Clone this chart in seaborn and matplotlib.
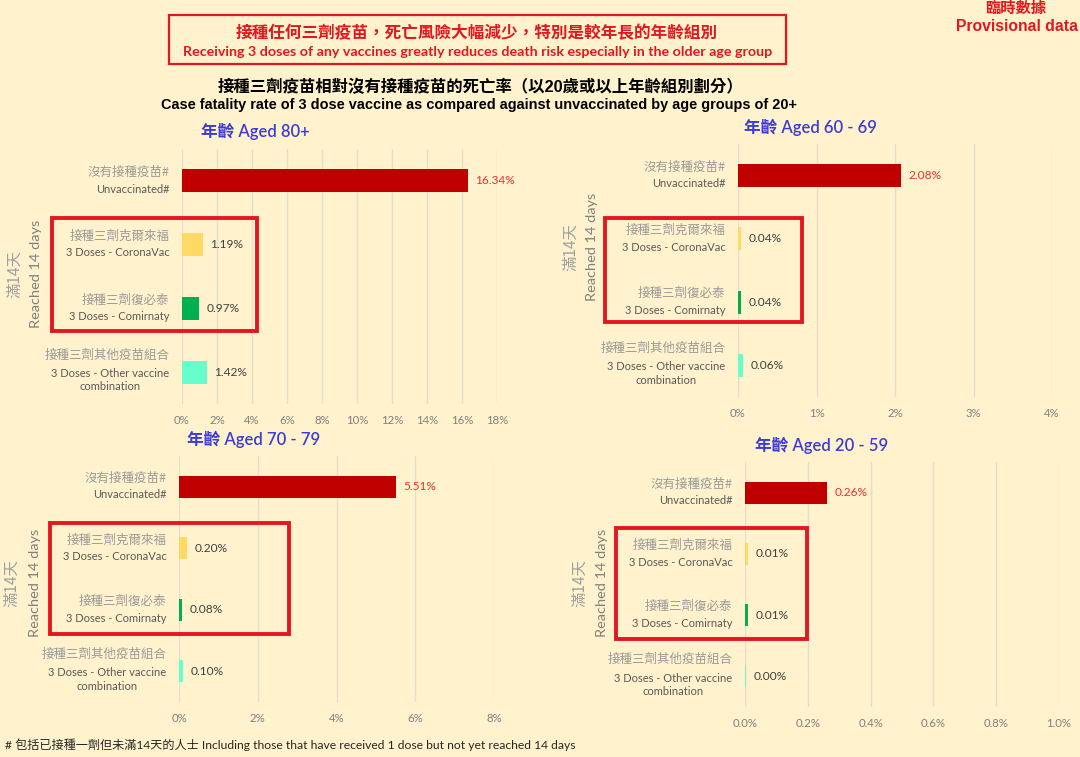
import matplotlib
matplotlib.use("Agg")
import matplotlib.pyplot as plt
import seaborn as sns
import pandas as pd
from matplotlib import font_manager
from matplotlib.patches import Rectangle

W, H = 1080, 757

# ---- data ----
labels_zh = ["沒有接種疫苗#", "接種三劑克爾來福", "接種三劑復必泰", "接種三劑其他疫苗組合"]
labels_en = ["Unvaccinated#", "3 Doses - CoronaVac", "3 Doses - Comirnaty",
             "3 Doses - Other vaccine\ncombination"]
bar_colors = ["#C00000", "#FFD966", "#00B050", "#66FFCC"]

panel_titles = ["年齡 Aged 80+", "年齡 Aged 60 - 69", "年齡 Aged 70 - 79", "年齡 Aged 20 - 59"]
rate_80 = [16.34, 1.19, 0.97, 1.42]
rate_60_69 = [2.08, 0.04, 0.04, 0.06]
rate_70_79 = [5.51, 0.20, 0.08, 0.10]
rate_20_59 = [0.26, 0.01, 0.01, 0.0045]
ticks_80 = [0, 2, 4, 6, 8, 10, 12, 14, 16, 18]
ticks_60_69 = [0, 1, 2, 3, 4]
ticks_70_79 = [0, 2, 4, 6, 8]
ticks_20_59 = [0.0, 0.2, 0.4, 0.6, 0.8, 1.0]
tick_fmt = ["{:.0f}%", "{:.0f}%", "{:.0f}%", "{:.1f}%"]

header_zh = "接種任何三劑疫苗，死亡風險大幅減少，特別是較年長的年齡組別"
header_en = "Receiving 3 doses of any vaccines greatly reduces death risk especially in the older age group"
title_zh = "接種三劑疫苗相對沒有接種疫苗的死亡率（以20歲或以上年齡組別劃分）"
title_en = "Case fatality rate of 3 dose vaccine as compared against unvaccinated by age groups of 20+"
footnote = "# 包括已接種一劑但未滿14天的人士 Including those that have received 1 dose but not yet reached 14 days"
ylabel_zh = "滿14天"
ylabel_en = "Reached 14 days"

# ---- layout (pixels) ----
layout = [
    dict(ax=(182, 149, 497, 404), title=(255, 131), box=(52, 218, 257, 331), ylab=(15, 35.5, 274)),
    dict(ax=(738, 144, 1052, 397), title=(810, 127), box=(605, 218, 802, 322), ylab=(571, 592, 247)),
    dict(ax=(179, 456, 494, 702), title=(254, 439), box=(50, 523, 289, 634), ylab=(12, 35, 583)),
    dict(ax=(745, 462, 1059, 707), title=(822, 445), box=(616, 528, 807, 639), ylab=(580, 602, 583)),
]
rates = [rate_80, rate_60_69, rate_70_79, rate_20_59]
ticks = [ticks_80, ticks_60_69, ticks_70_79, ticks_20_59]

BG = "#FFF2CC"
RED = "#E3171F"
sns.set_theme(style="white")
names = {f.name for f in font_manager.fontManager.ttflist}
NARROW = "Liberation Sans Narrow" if "Liberation Sans Narrow" in names else "Liberation Sans"
CJK = "Noto Sans CJK TC"
MIX = ["Lato", CJK]
plt.rcParams["font.family"] = MIX

fig = plt.figure(figsize=(W / 100, H / 100), dpi=100, facecolor=BG)
renderer = fig.canvas.get_renderer()


def ftext(x, y, s, **kw):
    return fig.text(x / W, 1 - y / H, s, **kw)


def fit(t, target, vertical=False):
    bb = t.get_window_extent(renderer=renderer)
    w = bb.height if vertical else bb.width
    t.set_fontsize(t.get_fontsize() * target / w)


def frect(x0, y0, x1, y1, lw, color):
    fig.patches.append(Rectangle((x0 / W, 1 - y1 / H), (x1 - x0) / W, (y1 - y0) / H,
                                 transform=fig.transFigure, fill=False,
                                 edgecolor=color, linewidth=lw, zorder=5))


# header
frect(169, 15, 786, 64, 1.6, RED)
t = ftext(477, 33, header_zh, ha="center", va="center", color=RED, fontsize=12,
          fontweight="bold", family=[CJK])
fit(t, 480)
t = ftext(478, 51.5, header_en, ha="center", va="center", color=RED, fontsize=9,
          fontweight="bold", family=MIX)
fit(t, 590)
t = ftext(1016, 8, "臨時數據", ha="center", va="center", color=RED, fontsize=11,
          fontweight="bold", family=[CJK])
fit(t, 61)
t = ftext(1017, 26.5, "Provisional data", ha="center", va="center", color=RED, fontsize=10,
          fontweight="bold", family=[NARROW])
fit(t, 122)
t = ftext(481, 87, title_zh, ha="center", va="center", color="black", fontsize=12,
          fontweight="bold", family=[NARROW, CJK])
fit(t, 525)
t = ftext(479, 105.5, title_en, ha="center", va="center", color="black", fontsize=11,
          fontweight="bold", family=[NARROW])
fit(t, 637)
t = ftext(5, 745, footnote, ha="left", va="center", color="#262626", fontsize=8, family=MIX)
fit(t, 572)

PX = 0.72  # points per pixel at 100 dpi
LH = 16.5 * PX

for k, lay in enumerate(layout):
    l, tp, r, b = lay["ax"]
    ax = fig.add_axes([l / W, 1 - b / H, (r - l) / W, (b - tp) / H])
    df = pd.DataFrame({"cat": labels_en, "rate": rates[k]})
    sns.barplot(data=df, x="rate", y="cat", hue="cat", palette=bar_colors, legend=False,
                width=0.36, saturation=1, orient="h", linewidth=0, ax=ax, zorder=3)
    ax.set_facecolor("none")
    for s in ax.spines.values():
        s.set_visible(False)
    ax.set_ylim(3.5, -0.5)
    ax.set_xlim(ticks[k][0], ticks[k][-1])
    ax.set_xticks(ticks[k])
    ax.set_xticklabels([tick_fmt[k].format(v) for v in ticks[k]])
    ax.tick_params(axis="x", length=0, pad=8, labelsize=8.2, labelcolor="#7F7F7F")
    ax.set_yticks([])
    ax.set_xlabel("")
    ax.set_ylabel("")
    ax.grid(axis="x", color="#E4DECB", linewidth=1, zorder=0)
    ax.grid(axis="y", visible=False)
    ax.set_axisbelow(True)

    for i, v in enumerate(rates[k]):
        ax.annotate(f"{v:.2f}%", xy=(v, i), xytext=(5.5, 0), textcoords="offset points",
                    va="center", ha="left", fontsize=8.6,
                    color="#F03030" if i == 0 else "#404040", annotation_clip=False)
        n = 2 + labels_en[i].count("\n")
        ax.annotate(labels_zh[i], xy=(0, i), xycoords=("axes fraction", "data"),
                    xytext=(-9, (n - 1) / 2 * LH), textcoords="offset points",
                    ha="right", va="center", fontsize=9, color="#9A9A9A", family=[CJK])
        ax.annotate(labels_en[i], xy=(0, i), xycoords=("axes fraction", "data"),
                    xytext=(-9, -LH / 2), textcoords="offset points",
                    ha="right", va="center", multialignment="center", linespacing=1.25,
                    fontsize=8, color="#595959")

    tx, ty = lay["title"]
    ftext(tx, ty, panel_titles[k], ha="center", va="center", fontsize=12,
          color="#3C3CD6", fontweight="semibold", family=MIX)
    x0, y0, x1, y1 = lay["box"]
    frect(x0, y0, x1, y1, 2.8, RED)
    zx, ex, yc = lay["ylab"]
    t = ftext(zx, yc, ylabel_zh, ha="center", va="center", rotation=90, fontsize=11,
              color="#A0A0A0", family=[CJK])
    fit(t, 48, vertical=True)
    t = ftext(ex, yc, ylabel_en, ha="center", va="center", rotation=90, fontsize=10,
              color="#808080", family=MIX)
    fit(t, 108, vertical=True)

fig.savefig("out.png", dpi=100, facecolor=BG)
